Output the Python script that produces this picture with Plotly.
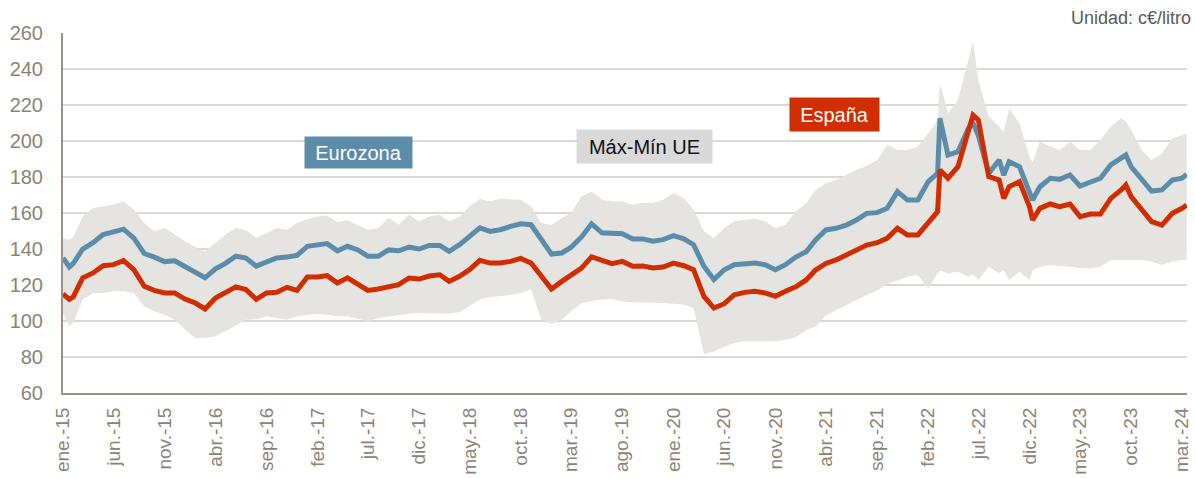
import plotly.graph_objects as go

# Fechas de las observaciones (mensuales, con algunos puntos intermedios en picos)
fechas = [
    "2015-01-01", "2015-01-20", "2015-02-01", "2015-03-01", "2015-04-01", "2015-05-01", "2015-06-01",
    "2015-07-01", "2015-08-01", "2015-09-01", "2015-10-01", "2015-11-01", "2015-12-01",
    "2016-01-01", "2016-02-01", "2016-03-01", "2016-04-01", "2016-05-01", "2016-06-01",
    "2016-07-01", "2016-08-01", "2016-09-01", "2016-10-01", "2016-11-01", "2016-12-01",
    "2017-01-01", "2017-02-01", "2017-03-01", "2017-04-01", "2017-05-01", "2017-06-01",
    "2017-07-01", "2017-08-01", "2017-09-01", "2017-10-01", "2017-11-01", "2017-12-01",
    "2018-01-01", "2018-02-01", "2018-03-01", "2018-04-01", "2018-05-01", "2018-06-01",
    "2018-07-01", "2018-08-01", "2018-09-01", "2018-10-01", "2018-11-01", "2018-12-01",
    "2019-01-01", "2019-02-01", "2019-03-01", "2019-04-01", "2019-05-01", "2019-06-01",
    "2019-07-01", "2019-08-01", "2019-09-01", "2019-10-01", "2019-11-01", "2019-12-01",
    "2020-01-01", "2020-02-01", "2020-03-01", "2020-04-01", "2020-05-01", "2020-06-01",
    "2020-07-01", "2020-08-01", "2020-09-01", "2020-10-01", "2020-11-01", "2020-12-01",
    "2021-01-01", "2021-02-01", "2021-03-01", "2021-04-01", "2021-05-01", "2021-06-01",
    "2021-07-01", "2021-08-01", "2021-09-01", "2021-10-01", "2021-11-01", "2021-12-01",
    "2022-01-01", "2022-02-01", "2022-03-01", "2022-03-08", "2022-04-01", "2022-05-01",
    "2022-06-01", "2022-06-15", "2022-07-01", "2022-08-01", "2022-09-01", "2022-09-15",
    "2022-10-01", "2022-11-01", "2022-12-01", "2022-12-10",
    "2023-01-01", "2023-02-01", "2023-03-01", "2023-04-01", "2023-05-01", "2023-06-01",
    "2023-07-01", "2023-08-01", "2023-09-01", "2023-09-15", "2023-10-01", "2023-11-01", "2023-12-01",
    "2024-01-01", "2024-02-01", "2024-03-01", "2024-03-15",
]

# Precio medio Eurozona (c€/litro)
eurozona = [
    135, 130, 132, 140, 143.5, 148, 149.5, 151, 146, 137.5, 135.5, 133, 133.5,
    130, 126.5, 124, 129, 132, 136, 135, 130.5, 133, 135, 135.5, 136.5,
    141.5, 142.5, 143, 139, 141.5, 139.5, 136, 136, 139.5, 139, 141, 140,
    142, 142, 138.7, 142.4, 147, 151.7, 149.8, 150.7, 152.6, 154, 153.5, 146,
    137.2, 137.8, 141, 146.7, 154, 149, 148.5, 148.5, 145.6, 145.6, 144.3, 145.2,
    147.4, 145.6, 142.4, 130.4, 123, 128.5, 131.3, 131.9, 132.2, 131.3, 128.5, 131.3,
    135.5, 138.5, 145, 150.6, 151.5, 153.3, 156.1, 159.8, 160.2, 162.6, 171.9, 167.2,
    167.2, 177.4, 182, 212.6, 192.2, 194.1, 207, 209.8, 203, 182, 189.4, 181,
    188.5, 185.7, 171.9, 167.2,
    174.6, 179.3, 178.7, 181.1, 175, 177.4, 179.3, 186.7, 190.4, 192.2, 185.7, 179.3, 172.2,
    172.8, 178.3, 179.3, 181.5,
]

# Precio España (c€/litro)
espana = [
    115, 112, 113.5, 124, 126.7, 130.7, 131.3, 133.5, 128.5, 119.3, 117, 115.6, 115.6,
    112.2, 110, 106.7, 112.8, 115.6, 119, 117.5, 112, 115.6, 116, 118.7, 117,
    124.4, 124.4, 125.2, 121.1, 124, 120.2, 117, 117.8, 119.3, 120.2, 123.9, 123.3,
    125, 125.7, 122, 124.8, 128.5, 133.7, 132.2, 132.2, 133.1, 134.8, 132.2, 124.8,
    117.8, 122, 125.7, 129.4, 135.6, 134, 131.9, 133.1, 130.4, 130.5, 129.4, 130,
    132.2, 130.7, 128.5, 113.7, 107.2, 109.6, 114.6, 115.9, 116.5, 115.6, 113.7, 116.5,
    119, 122.8, 128.3, 132, 133.9, 136.7, 139.4, 142.2, 143.5, 145.9, 151.5, 147.8,
    147.8, 154.3, 160.7, 183.9, 179.3, 185.7, 204.3, 214.4, 211.7, 180.2, 178.3, 168.1,
    174.6, 177.4, 163.5, 156.1,
    162.6, 165, 163.5, 165, 158, 159.4, 159.4, 168.1, 172.8, 175.6, 169.1, 161.7, 155.2,
    153.3, 159.8, 162.6, 164.4,
]

# Máximo de la UE (c€/litro)
maximo_ue = [
    146, 145, 147, 158, 162.8, 163.7, 164.6, 166.5, 162, 154.4, 149.8, 151.7, 148,
    144.3, 141, 138.7, 143.3, 148, 151.7, 150.5, 146.1, 148.9, 151.7, 150.7, 154.4,
    156.7, 158.1, 158.5, 155, 156, 153.5, 150.7, 151.7, 157.2, 153.5, 159, 155.4,
    158.1, 159, 155.4, 158.1, 163.7, 167.8, 166.5, 167.8, 167.4, 167.4, 163.7, 154.4,
    153.5, 157.2, 160, 169.3, 172, 167.4, 166.5, 166.5, 164.6, 165.6, 165.6, 167.4,
    171.1, 168.3, 161.9, 149.8, 146.1, 151.7, 155.4, 156.3, 156.7, 155.4, 151.7, 153.5,
    161, 165.4, 172.8, 176.5, 178.3, 181.1, 183.9, 186.1, 189.4, 197.8, 195, 195,
    196.9, 204.3, 211.7, 232, 215.4, 222.8, 245, 255, 233.9, 213.5, 208, 205,
    218.1, 209.8, 191.3, 188,
    199.6, 196.9, 195, 199.6, 195, 195, 200.6, 208, 212.6, 211, 206.1, 195, 189.4,
    193.1, 201.5, 203.3, 204,
]

# Mínimo de la UE (c€/litro)
minimo_ue = [
    104.4, 97, 99, 111.9, 115.6, 115.6, 116.5, 116.5, 115.6, 108, 105.4, 103.5, 100.7,
    95.2, 90.6, 90.6, 91.5, 94.3, 97.5, 100.7, 101, 102.6, 101.7, 100.7, 102.6,
    103.5, 104, 103.5, 102.6, 102.6, 101, 99.8, 101.7, 102.6, 103.5, 104, 104.4,
    104.4, 104.4, 104, 104.8, 108.1, 111.9, 113.3, 113.7, 114.6, 115.6, 117.5, 101,
    98.5, 100.7, 105.4, 110, 111, 112, 112.2, 110.9, 110.4, 110.4, 110, 110,
    109.6, 109.1, 107.2, 81.5, 83.1, 85.9, 87.8, 88.7, 88.7, 88.7, 88.7, 89.6,
    91, 95, 97, 103, 106, 109, 111.7, 114.4, 117, 120.6, 122.8, 124.6,
    125.6, 118, 126.5, 128, 126.5, 127.4, 124.6, 126, 122.8, 130.2, 126.5, 128,
    122.8, 127.4, 122.8, 128,
    130.2, 131.1, 130.6, 130.2, 129.3, 129.3, 130.2, 133.9, 133.9, 134, 133.9, 133.9, 133,
    131.1, 133, 133.9, 134,
]

# Marcas del eje X (cada cinco meses)
marcas_x = [
    "2015-01-01", "2015-06-01", "2015-11-01", "2016-04-01", "2016-09-01", "2017-02-01",
    "2017-07-01", "2017-12-01", "2018-05-01", "2018-10-01", "2019-03-01", "2019-08-01",
    "2020-01-01", "2020-06-01", "2020-11-01", "2021-04-01", "2021-09-01", "2022-02-01",
    "2022-07-01", "2022-12-01", "2023-05-01", "2023-10-01", "2024-03-01",
]
etiquetas_x = [
    "ene.-15", "jun.-15", "nov.-15", "abr.-16", "sep.-16", "feb.-17",
    "jul.-17", "dic.-17", "may.-18", "oct.-18", "mar.-19", "ago.-19",
    "ene.-20", "jun.-20", "nov.-20", "abr.-21", "sep.-21", "feb.-22",
    "jul.-22", "dic.-22", "may.-23", "oct.-23", "mar.-24",
]

COLOR_EJE = "#8c8276"
COLOR_REJILLA = "#dcd8d3"
COLOR_BANDA = "#e6e4e1"
COLOR_EURO = "#5b8dab"
COLOR_ESP = "#d02d00"
FUENTE = "Liberation Sans, Arial, sans-serif"

fig = go.Figure()

# Banda Máx-Mín UE
fig.add_trace(go.Scatter(
    x=fechas, y=minimo_ue, mode="lines", line=dict(width=0, color=COLOR_BANDA),
    hoverinfo="skip", showlegend=False,
))
fig.add_trace(go.Scatter(
    x=fechas, y=maximo_ue, mode="lines", line=dict(width=0, color=COLOR_BANDA),
    fill="tonexty", fillcolor=COLOR_BANDA, name="Máx-Mín UE", showlegend=False,
))

# Series de precios
fig.add_trace(go.Scatter(
    x=fechas, y=eurozona, mode="lines", name="Eurozona",
    line=dict(color=COLOR_EURO, width=5), showlegend=False,
))
fig.add_trace(go.Scatter(
    x=fechas, y=espana, mode="lines", name="España",
    line=dict(color=COLOR_ESP, width=5), showlegend=False,
))

# Etiquetas de las series
etiquetas = [
    dict(text="Eurozona", x="2017-06-03", y=193.8, bg=COLOR_EURO, fg="white", w=107, h=31),
    dict(text="Máx-Mín UE", x="2019-10-07", y=197.1, bg="#d9d9d9", fg="#111111", w=135, h=33),
    dict(text="España", x="2021-04-28", y=214.9, bg=COLOR_ESP, fg="white", w=89, h=33),
]
for e in etiquetas:
    fig.add_annotation(
        x=e["x"], y=e["y"], xref="x", yref="y", text=e["text"], showarrow=False,
        font=dict(family=FUENTE, size=20, color=e["fg"]),
        bgcolor=e["bg"], width=e["w"], height=e["h"], borderpad=0,
        xanchor="center", yanchor="middle",
    )

fig.add_annotation(
    text="Unidad: c€/litro", xref="paper", yref="paper", x=1.0053, y=1.042,
    xanchor="right", yanchor="middle", showarrow=False,
    font=dict(family=FUENTE, size=18, color="#595959"),
)

fig.update_layout(
    width=1195, height=479,
    margin=dict(l=63, r=8, t=33, b=86, autoexpand=False),
    paper_bgcolor="white", plot_bgcolor="white",
    font=dict(family=FUENTE, size=20, color=COLOR_EJE),
    xaxis=dict(
        type="date", range=["2015-01-01", "2024-03-16"],
        tickvals=marcas_x, ticktext=etiquetas_x, tickangle=-90,
        showgrid=False, zeroline=False, automargin=False,
        showline=True, linecolor="#9c9285", linewidth=2,
        ticks="", ticklabelstandoff=5, ticklabeloverflow="allow",
        tickfont=dict(family=FUENTE, size=19, color=COLOR_EJE),
    ),
    yaxis=dict(
        range=[60, 260], tick0=60, dtick=20, automargin=False,
        showgrid=True, gridcolor=COLOR_REJILLA, gridwidth=2,
        zeroline=False, showline=True, linecolor="#9c9285", linewidth=2,
        ticks="", ticklabelstandoff=14,
        tickfont=dict(family=FUENTE, size=20, color=COLOR_EJE),
    ),
)

fig.write_html("out.html")
